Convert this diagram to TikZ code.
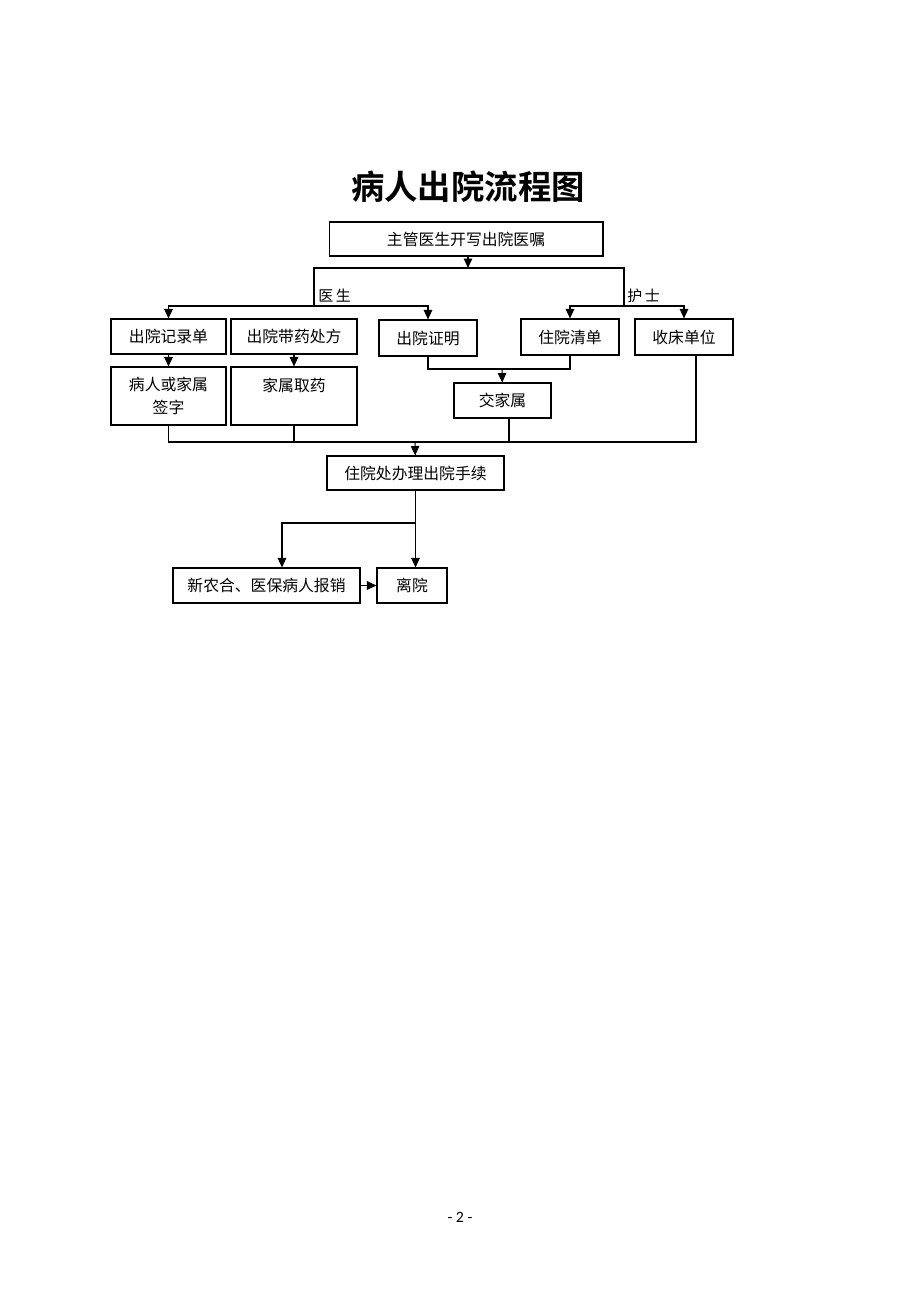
\documentclass[tikz,border=0pt]{standalone}
\usepackage{fontspec}
\setmainfont{Carlito}
\newfontfamily\cjk{Noto Sans CJK SC}[BoldFont={Noto Sans CJK SC Bold}]
\usetikzlibrary{arrows.meta,positioning}
\tikzset{
  box/.style={draw, line width=0.6pt, font=\cjk\fontsize{9}{13}\selectfont, align=center, inner sep=0pt},
  lbl/.style={font=\cjk\fontsize{8.5}{10}\selectfont, inner sep=0pt, anchor=west},
  line/.style={line width=0.6pt},
  arr/.style={line width=0.6pt, -{Triangle[length=1.9mm,width=1.7mm]}}
}
\begin{document}
\begin{tikzpicture}[x=0.02cm, y=-0.02cm]
\useasboundingbox (0,0) rectangle (920,1302);
\node[font=\cjk\bfseries\fontsize{19}{19}\selectfont] (T) at (468,187) {病人出院流程图};
\node[box, minimum width=5.48cm, minimum height=0.68cm] (A) at (466,239) {主管医生开写出院医嘱};
\coordinate (s) at (468,268);
\coordinate (dl) at (314,268);
\coordinate (dr) at (624,268);
\coordinate (dd) at (314,306);
\coordinate (nd) at (624,306);
\node[lbl] (doc) at (318,296) {医\,生};
\node[lbl] (nur) at (627,296) {护\,士};
\node[box, minimum width=2.3cm, minimum height=0.7cm] (B1) at (168.5,336.5) {出院记录单};
\node[box, minimum width=2.52cm, minimum height=0.7cm] (B2) at (294,336.5) {出院带药处方};
\node[box, minimum width=1.96cm, minimum height=0.72cm] (B3) at (428,338) {出院证明};
\node[box, minimum width=1.96cm, minimum height=0.72cm] (B4) at (570,337) {住院清单};
\node[box, minimum width=1.96cm, minimum height=0.72cm] (B5) at (684,337) {收床单位};
\node[box, minimum width=2.3cm, minimum height=1.16cm] (C1) at (168.5,396) {病人或家属\\签字};
\node[box, minimum width=2.52cm, minimum height=1.16cm] (C2) at (294,396) {家属取药\\~};
\node[box, minimum width=1.94cm, minimum height=0.7cm] (C3) at (502.5,400.5) {交家属};
\coordinate (j2) at (502,369);
\coordinate (j3) at (415,442);
\node[box, minimum width=3.54cm, minimum height=0.68cm] (D) at (415.5,473) {住院处办理出院手续};
\coordinate (j4) at (415,523);
\node[box, minimum width=3.74cm, minimum height=0.7cm] (E1) at (266.5,585.5) {新农合、医保病人报销};
\node[box, minimum width=1.4cm, minimum height=0.7cm] (E2) at (412,585.5) {离院};
\node[font=\fontsize{9}{9}\selectfont] (P) at (460,1217) {- 2 -};

\draw[arr] (A.south -| s) -- (s);
\draw[line] (dd) -- (dl) -- (dr) -- (nd);
\draw[arr] (dd) -| (B1);
\draw[arr] (dd) -| (B3);
\draw[arr] (nd) -| (B4);
\draw[arr] (nd) -| (B5);
\draw[arr] (B1) -- (C1);
\draw[arr] (B2) -- (C2);
\draw[line] (B3) |- (j2) -| (B4);
\draw[arr] (j2) -- (C3);
\draw[line] (C1) |- (j3);
\draw[line] (C2) |- (j3);
\draw[line] ([xshift=0.13cm]C3.south) |- (j3);
\draw[line] ([xshift=0.24cm]B5.south) |- (j3);
\draw[arr] (j3) -- (D);
\draw[arr] (D.south) -- (D.south |- E2.north);
\draw[arr] (j4) -| ([xshift=0.31cm]E1.north);
\draw[arr] (E1) -- (E2);
\end{tikzpicture}
\end{document}
